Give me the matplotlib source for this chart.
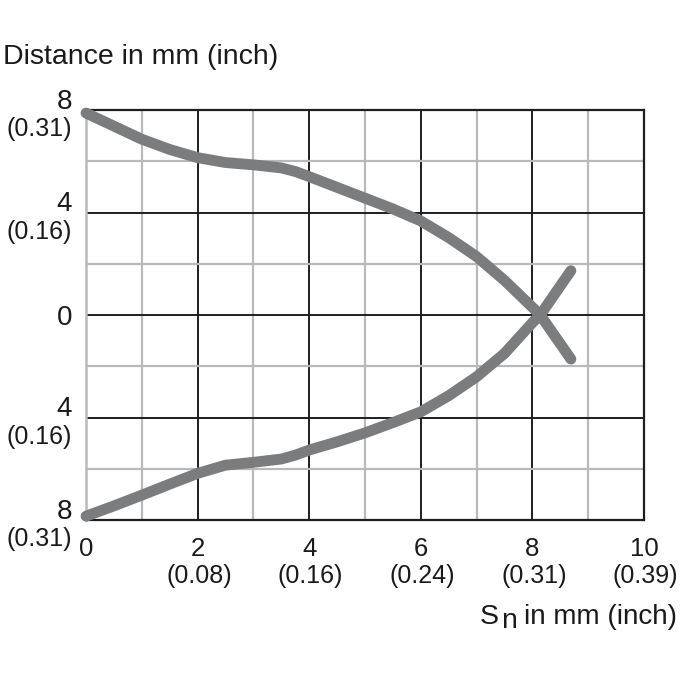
import matplotlib.pyplot as plt
from matplotlib.ticker import FixedLocator

# curve data (mm)
upper_x = [0, 0.5, 1, 1.5, 2, 2.5, 3, 3.5, 3.75, 4, 4.5, 5, 5.5, 6, 6.5, 7, 7.5, 8, 8.14, 8.69]
upper_y = [7.88, 7.37, 6.86, 6.46, 6.14, 5.95, 5.86, 5.74, 5.6, 5.4, 4.98, 4.56, 4.14, 3.67, 3.02, 2.28, 1.35, 0.3, 0.0, -1.72]
lower_x = [0, 0.5, 1, 1.5, 2, 2.5, 3, 3.5, 3.75, 4, 4.5, 5, 5.5, 6, 6.5, 7, 7.5, 8, 8.14, 8.69]
lower_y = [-7.85, -7.45, -7.03, -6.6, -6.18, -5.86, -5.75, -5.62, -5.47, -5.27, -4.95, -4.6, -4.2, -3.78, -3.15, -2.41, -1.5, -0.3, 0.0, 1.73]

x_ticks = [2, 4, 6, 8, 10]
x_inch = ["(0.08)", "(0.16)", "(0.24)", "(0.31)", "(0.39)"]
y_ticks = [8, 4, 0, -4, -8]
y_main = ["8", "4", "0", "4", "8"]
y_inch = ["(0.31)", "(0.16)", "", "(0.16)", "(0.31)"]

plt.rcParams['font.family'] = ['Liberation Sans', 'DejaVu Sans']
txt = '#1a1a1a'

fig = plt.figure(figsize=(6.8, 6.8), dpi=100)
ax = fig.add_axes([86/680, 1 - 520/680, (644 - 86)/680, (520 - 110)/680])

ax.set_xlim(0, 10)
ax.set_ylim(-8, 8)

# grid: black every 2 mm / 4 mm, light grey in between
ax.xaxis.set_major_locator(FixedLocator([2, 4, 6, 8]))
ax.xaxis.set_minor_locator(FixedLocator([1, 3, 5, 7, 9]))
ax.yaxis.set_major_locator(FixedLocator([-4, 0, 4]))
ax.yaxis.set_minor_locator(FixedLocator([-6, -2, 2, 6]))
ax.grid(which='minor', color='#b9b9b9', lw=1.6)
ax.grid(which='major', color='#1e1e1e', lw=1.4)
ax.set_axisbelow(True)
ax.tick_params(which='both', length=0, labelbottom=False, labelleft=False)
for side in ['top', 'bottom', 'right']:
    ax.spines[side].set_color('#1e1e1e')
    ax.spines[side].set_linewidth(1.6)
ax.spines['left'].set_color('#b9b9b9')
ax.spines['left'].set_linewidth(1.8)

# curves
for xs, ys in [(upper_x, upper_y), (lower_x, lower_y)]:
    ax.plot(xs, ys, color='#7b7c7e', lw=7.8, solid_capstyle='round',
            solid_joinstyle='round', clip_on=False, zorder=3)

# y tick labels (mm above, inch below)
for v, m, inch in zip(y_ticks, y_main, y_inch):
    dy = 1 if inch else -7
    ax.annotate(m, xy=(0, v), xycoords=('axes fraction', 'data'),
                xytext=(-10, dy), textcoords='offset points',
                ha='right', va='baseline', fontsize=20, color=txt)
    if inch:
        ax.annotate(inch, xy=(0, v), xycoords=('axes fraction', 'data'),
                    xytext=(-10, -19), textcoords='offset points',
                    ha='right', va='baseline', fontsize=18, color=txt)

# x tick labels
ax.annotate("0", xy=(0, 0), xycoords=('data', 'axes fraction'),
            xytext=(0, -26), textcoords='offset points',
            ha='center', va='baseline', fontsize=18.5, color=txt)
for v, inch in zip(x_ticks, x_inch):
    ax.annotate(str(v), xy=(v, 0), xycoords=('data', 'axes fraction'),
                xytext=(0, -26), textcoords='offset points',
                ha='center', va='baseline', fontsize=18.5, color=txt)
    ax.annotate(inch, xy=(v, 0), xycoords=('data', 'axes fraction'),
                xytext=(1, -45), textcoords='offset points',
                ha='center', va='baseline', fontsize=18, color=txt)

# axis titles
fig.text(3/680, 1 - 64/680, "Distance in mm (inch)", ha='left', va='baseline',
         fontsize=20.5, color=txt)
fig.text(480/680, 1 - 624/680, "S", ha='left', va='baseline',
         fontsize=20.5, color=txt)
fig.text(501/680, 1 - 628/680, "n", ha='left', va='baseline',
         fontsize=20.5, color=txt)
fig.text(677/680, 1 - 624/680, "in mm (inch)", ha='right', va='baseline',
         fontsize=20, color=txt)

fig.savefig('out.png', dpi=100)
